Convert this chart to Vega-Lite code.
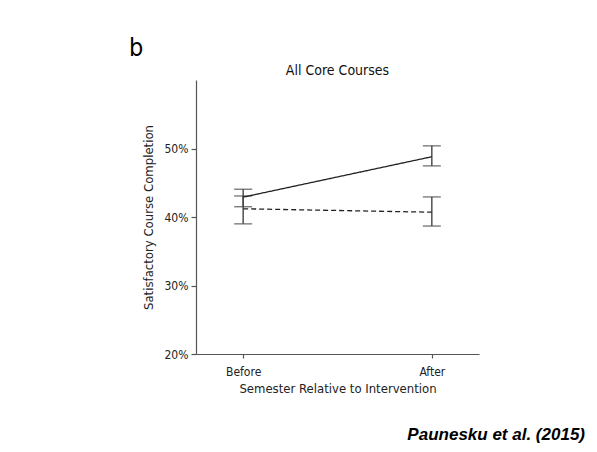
{
  "$schema": "https://vega.github.io/schema/vega-lite/v6.json",
  "padding": {"left": 129, "top": 36, "right": 10, "bottom": 5},
  "background": "white",
  "config": {
    "font": "DejaVu Sans Condensed",
    "view": {"stroke": null},
    "axis": {"labelFont": "DejaVu Sans Condensed", "titleFont": "DejaVu Sans Condensed", "labelColor": "#222", "titleColor": "#222", "titleFontWeight": "normal", "domainColor": "#555", "tickColor": "#555", "domainWidth": 1.2, "tickWidth": 1.2, "grid": false}
  },
  "title": {"text": "Paunesku et al. (2015)", "orient": "bottom", "anchor": "end", "font": "Liberation Sans", "fontStyle": "italic", "fontWeight": "bold", "fontSize": 17, "color": "#000", "dx": 106, "offset": 32},
  "vconcat": [
    {
      "title": {"text": "b", "anchor": "start", "font": "DejaVu Sans Condensed", "fontSize": 25, "fontWeight": "normal", "color": "#000", "dx": -13, "dy": 1},
      "vconcat": [
        {
          "title": {"text": "All Core Courses", "anchor": "middle", "font": "DejaVu Sans Condensed", "fontSize": 14, "fontWeight": "normal", "color": "#111", "offset": 2},
          "width": 283,
          "height": 274,
          "data": {"values": [
            {"group": "Intervention", "time": "Before", "mean": 0.429, "lo": 0.415, "hi": 0.4405},
            {"group": "Intervention", "time": "After", "mean": 0.488, "lo": 0.4746, "hi": 0.5039},
            {"group": "Control", "time": "Before", "mean": 0.412, "lo": 0.390, "hi": 0.4307},
            {"group": "Control", "time": "After", "mean": 0.407, "lo": 0.3868, "hi": 0.4293}
          ]},
          "encoding": {
            "x": {"field": "time", "type": "nominal", "sort": ["Before", "After"], "scale": {"type": "point", "padding": 0.25},
              "axis": {"title": "Semester Relative to Intervention", "titleFontSize": 13, "labelFontSize": 12, "labelAngle": 0, "tickSize": 4, "labelPadding": 8, "titlePadding": 5}}
          },
          "layer": [
            {
              "mark": {"type": "rule", "color": "#444", "strokeWidth": 1.4},
              "encoding": {
                "y": {"field": "lo", "type": "quantitative", "scale": {"domain": [0.2, 0.6], "nice": false, "zero": false},
                  "axis": {"title": "Satisfactory Course Completion", "values": [0.2, 0.3, 0.4, 0.5], "format": ".0%", "titleFontSize": 13, "labelFontSize": 12, "tickSize": 5, "labelPadding": 3, "titlePadding": 9}},
                "y2": {"field": "hi"}
              }
            },
            {
              "mark": {"type": "tick", "color": "#444", "size": 18, "thickness": 1.4},
              "encoding": {"y": {"field": "lo", "type": "quantitative"}}
            },
            {
              "mark": {"type": "tick", "color": "#444", "size": 18, "thickness": 1.4},
              "encoding": {"y": {"field": "hi", "type": "quantitative"}}
            },
            {
              "mark": {"type": "line", "color": "#222", "strokeWidth": 1.3},
              "encoding": {
                "y": {"field": "mean", "type": "quantitative"},
                "strokeDash": {"field": "group", "type": "nominal", "scale": {"domain": ["Intervention", "Control"], "range": [[1, 0], [5, 3]]}, "legend": null}
              }
            }
          ]
        }
      ]
    }
  ]
}
